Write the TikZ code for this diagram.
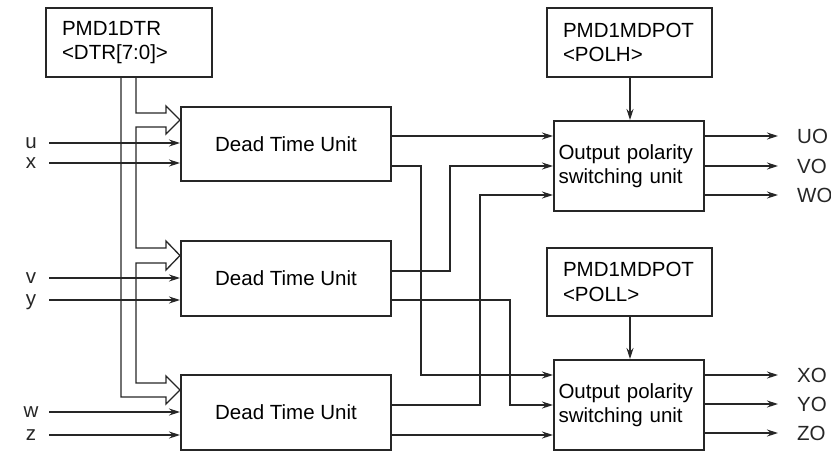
\documentclass[tikz,border=0pt]{standalone}
\usepackage{fontspec}
\setmainfont{Liberation Sans}
\usetikzlibrary{arrows.meta}
\begin{document}
\begin{tikzpicture}[x=1pt,y=-1pt,
  box/.style={draw=black!85, line width=2pt, inner sep=0pt, font=\fontsize{20.5}{24.5}\selectfont},
  lbl/.style={inner sep=0pt, font=\fontsize{20.5}{24.5}\selectfont, text=black!85},
  wire/.style={draw=black!85, line width=1.3pt},
  arr/.style={wire, -{Stealth[length=11pt,width=7pt]}}]
\useasboundingbox (0,0) rectangle (831,451);
% boxes
\node[box, minimum width=166pt, minimum height=69pt, text width=134pt, align=left] (dtr) at (129,42.5) {PMD1DTR\\<DTR[7:0]>};
\node[box, minimum width=165pt, minimum height=69pt, text width=133pt, align=left] (polh) at (629.5,42.5) {PMD1MDPOT\\<POLH>};
\node[box, minimum width=165pt, minimum height=68pt, text width=133pt, align=left] (poll) at (629.5,282) {PMD1MDPOT\\<POLL>};
\node[box, minimum width=210pt, minimum height=74pt] (dtu1) at (286,144) {Dead Time Unit};
\node[box, minimum width=210pt, minimum height=75pt] (dtu2) at (286,278.5) {Dead Time Unit};
\node[box, minimum width=210pt, minimum height=75pt] (dtu3) at (286,412.5) {Dead Time Unit};
\node[box, minimum width=150pt, minimum height=90pt, text width=141pt, align=left] (ops1) at (629,166) {Output polarity\\switching unit};
\node[box, minimum width=150pt, minimum height=90pt, text width=141pt, align=left] (ops2) at (629,405) {Output polarity\\switching unit};
% bus from DTR
\draw[wire, line join=miter] (dtr.south -| 121,0) -- (121,397) -- (166,397) -- (166,404) -- (dtu3.west |- 0,390) -- (166,376) -- (166,383) -- (136,383) -- (136,263) -- (166,263) -- (166,270) -- (dtu2.west |- 0,255.5) -- (166,241) -- (166,248) -- (136,248) -- (136,127) -- (166,127) -- (166,134) -- (dtu1.west |- 0,120) -- (166,106) -- (166,113) -- (136,113) -- (dtr.south -| 136,0);
% input labels
\node[lbl, anchor=base] (u) at (31,148) {u};
\node[lbl, anchor=base] (x) at (31,168.5) {x};
\node[lbl, anchor=base] (v) at (31,283.5) {v};
\node[lbl, anchor=base] (y) at (31,305.5) {y};
\node[lbl, anchor=base] (w) at (31,417.5) {w};
\node[lbl, anchor=base] (z) at (31,440.5) {z};
\coordinate (iu) at (49,143);
\coordinate (ix) at (49,163);
\coordinate (iv) at (49,278);
\coordinate (iy) at (49,300);
\coordinate (iw) at (49,412);
\coordinate (iz) at (49,435);
\draw[arr] (iu) -- (dtu1.west |- iu);
\draw[arr] (ix) -- (dtu1.west |- ix);
\draw[arr] (iv) -- (dtu2.west |- iv);
\draw[arr] (iy) -- (dtu2.west |- iy);
\draw[arr] (iw) -- (dtu3.west |- iw);
\draw[arr] (iz) -- (dtu3.west |- iz);
% polarity registers
\draw[arr] (polh.south -| 630,0) -- (ops1.north -| 630,0);
\draw[arr] (poll.south -| 630,0) -- (ops2.north -| 630,0);
% DTU -> OPS
\draw[arr] (dtu1.east |- 0,136) -- (ops1.west |- 0,136);
\draw[arr] (dtu1.east |- 0,166) -- (421,166) -- (421,375) -- (ops2.west |- 0,375);
\draw[arr] (dtu2.east |- 0,271) -- (450,271) -- (450,166) -- (ops1.west |- 0,166);
\draw[arr] (dtu2.east |- 0,300) -- (510,300) -- (510,405) -- (ops2.west |- 0,405);
\draw[arr] (dtu3.east |- 0,405) -- (480,405) -- (480,195) -- (ops1.west |- 0,195);
\draw[arr] (dtu3.east |- 0,435) -- (ops2.west |- 0,435);
% outputs
\node[lbl, anchor=base west] (UO) at (797,143.5) {UO};
\node[lbl, anchor=base west] (VO) at (797,173.5) {VO};
\node[lbl, anchor=base west] (WO) at (797,202.5) {WO};
\node[lbl, anchor=base west] (XO) at (797,382.5) {XO};
\node[lbl, anchor=base west] (YO) at (797,411.5) {YO};
\node[lbl, anchor=base west] (ZO) at (797,440.5) {ZO};
\draw[arr] (ops1.east |- 0,136) -- ++(73,0);
\draw[arr] (ops1.east |- 0,166) -- ++(73,0);
\draw[arr] (ops1.east |- 0,195) -- ++(73,0);
\draw[arr] (ops2.east |- 0,375) -- ++(73,0);
\draw[arr] (ops2.east |- 0,404) -- ++(73,0);
\draw[arr] (ops2.east |- 0,433) -- ++(73,0);
\end{tikzpicture}
\end{document}
